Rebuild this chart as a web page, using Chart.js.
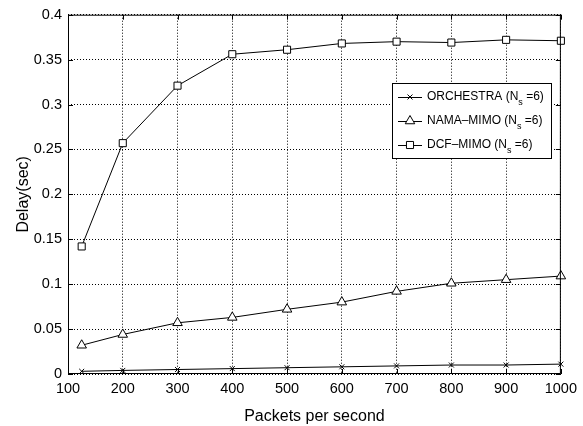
<!DOCTYPE html>
<html>
<head>
<meta charset="utf-8">
<script src="https://cdn.jsdelivr.net/npm/chart.js@4/dist/chart.umd.min.js"></script>
<style>
  html, body { margin: 0; padding: 0; background: #fff; }
  canvas { display: block; }
</style>
</head>
<body>
<canvas id="delayChart" width="583" height="426"></canvas>
<script>
// packets per second
const packetRates = [125, 200, 300, 400, 500, 600, 700, 800, 900, 1000];

// delay (sec) per scheme
const orchestraDelay = [0.003, 0.004, 0.005, 0.006, 0.007, 0.008, 0.009, 0.010, 0.010, 0.011];
const namaDelay = [0.032, 0.044, 0.057, 0.063, 0.072, 0.080, 0.092, 0.101, 0.105, 0.109];
const dcfDelay = [0.142, 0.257, 0.321, 0.356, 0.361, 0.368, 0.370, 0.369, 0.372, 0.371];

const seriesNames = ["ORCHESTRA", "NAMA\u2013MIMO", "DCF\u2013MIMO"];

const xTicks = [100, 200, 300, 400, 500, 600, 700, 800, 900, 1000];
const yTicks = [0, 0.05, 0.1, 0.15, 0.2, 0.25, 0.3, 0.35, 0.4];
const yTickLabels = ["0", "0.05", "0.1", "0.15", "0.2", "0.25", "0.3", "0.35", "0.4"];

const FONT = "'Liberation Sans', Arial, Helvetica, sans-serif";

function toPoints(values) {
  return values.map((v, i) => ({ x: packetRates[i], y: v }));
}

// box, inner tick marks and legend (MATLAB style)
const matlabFrame = {
  id: "matlabFrame",
  afterDraw(chart) {
    const ctx = chart.ctx;
    const area = chart.chartArea;
    const xs = chart.scales.x;
    const ys = chart.scales.y;
    ctx.save();
    ctx.strokeStyle = "#000";
    ctx.lineWidth = 1;
    ctx.setLineDash([]);
    ctx.strokeRect(area.left + 0.5, area.top + 0.5, area.right - area.left - 1, area.bottom - area.top - 1);
    ctx.beginPath();
    xTicks.forEach((t) => {
      const px = Math.round(xs.getPixelForValue(t)) + 0.5;
      ctx.moveTo(px, area.bottom); ctx.lineTo(px, area.bottom - 5);
      ctx.moveTo(px, area.top); ctx.lineTo(px, area.top + 5);
    });
    yTicks.forEach((t) => {
      const py = Math.round(ys.getPixelForValue(t)) + 0.5;
      ctx.moveTo(area.left, py); ctx.lineTo(area.left + 5, py);
      ctx.moveTo(area.right, py); ctx.lineTo(area.right - 5, py);
    });
    ctx.stroke();

    // legend
    const lx = 392, ly = 83, lw = 159, lh = 75;
    ctx.fillStyle = "#fff";
    ctx.fillRect(lx, ly, lw, lh);
    ctx.strokeRect(lx + 0.5, ly + 0.5, lw, lh);
    chart.data.datasets.forEach((ds, i) => {
      const cy = ly + 14 + i * 24;
      ctx.beginPath();
      ctx.moveTo(lx + 6, cy + 0.5);
      ctx.lineTo(lx + 30, cy + 0.5);
      ctx.strokeStyle = "#000";
      ctx.stroke();
      ctx.fillStyle = "#fff";
      Chart.helpers.drawPoint(ctx, {
        pointStyle: ds.pointStyle,
        radius: ds.pointRadius,
        borderWidth: 1
      }, lx + 18, cy);
      ctx.fillStyle = "#000";
      ctx.font = "12px " + FONT;
      ctx.textBaseline = "middle";
      ctx.textAlign = "left";
      let tx = lx + 35;
      const head = seriesNames[i] + " (N";
      ctx.fillText(head, tx, cy);
      tx += ctx.measureText(head).width;
      ctx.font = "9px " + FONT;
      ctx.fillText("s", tx, cy + 6);
      tx += ctx.measureText("s").width;
      ctx.font = "12px " + FONT;
      ctx.fillText(" =6)", tx, cy);
    });
    ctx.restore();
  }
};

const gridStyle = {
  color: "#000",
  lineWidth: 1,
  drawTicks: false
};

const dataset = (name, values, style, radius) => ({
  label: name,
  data: toPoints(values),
  borderColor: "#000",
  borderWidth: 1,
  pointStyle: style,
  pointRadius: radius,
  pointBorderColor: "#000",
  pointBackgroundColor: "#fff",
  pointBorderWidth: 1,
  clip: false
});

function initializeChart() {
  const ctx = document.getElementById("delayChart").getContext("2d");
  new Chart(ctx, {
    type: "line",
    data: {
      datasets: [
        dataset(seriesNames[0], orchestraDelay, "crossRot", 3.5),
        dataset(seriesNames[1], namaDelay, "triangle", 5.5),
        dataset(seriesNames[2], dcfDelay, "rect", 5)
      ]
    },
    options: {
      responsive: false,
      animation: false,
      devicePixelRatio: 1,
      layout: { padding: { top: 13, right: 19, left: 0, bottom: 0 } },
      plugins: {
        legend: { display: false },
        tooltip: { enabled: false }
      },
      scales: {
        x: {
          type: "linear",
          min: 100,
          max: 1000,
          afterBuildTicks: (s) => { s.ticks = xTicks.map((v) => ({ value: v })); },
          afterFit: (s) => { s.height = 52; },
          grid: gridStyle,
          border: { display: false, dash: [1, 2] },
          ticks: {
            color: "#000",
            font: { family: FONT, size: 14.5 },
            padding: 6,
            maxRotation: 0,
            autoSkip: false,
            callback: (v) => String(v)
          },
          title: {
            display: true,
            text: "Packets per second",
            color: "#000",
            font: { family: FONT, size: 16 },
            padding: { top: 3, bottom: 0 }
          }
        },
        y: {
          min: 0,
          max: 0.4,
          afterBuildTicks: (s) => { s.ticks = yTicks.map((v) => ({ value: v })); },
          afterFit: (s) => { s.width = 68; },
          grid: gridStyle,
          border: { display: false, dash: [1, 2] },
          ticks: {
            color: "#000",
            font: { family: FONT, size: 14.5 },
            padding: 6,
            callback: (v) => yTickLabels[yTicks.indexOf(v)] ?? ""
          },
          title: {
            display: true,
            text: "Delay(sec)",
            color: "#000",
            font: { family: FONT, size: 16 },
            padding: { top: 14, bottom: 0 }
          }
        }
      }
    },
    plugins: [matlabFrame]
  });
}

document.addEventListener("DOMContentLoaded", () => {
  initializeChart();
});
</script>
</body>
</html>
